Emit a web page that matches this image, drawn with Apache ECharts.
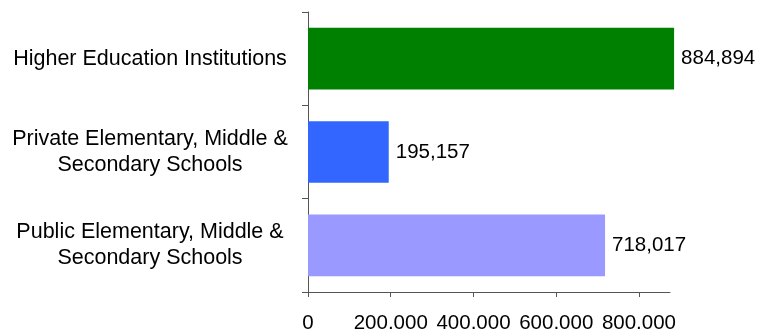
<!DOCTYPE html>
<html>
<head>
<meta charset="utf-8">
<script src="https://cdn.jsdelivr.net/npm/echarts@6/dist/echarts.min.js"></script>
<style>
html,body{margin:0;padding:0;background:#fff;}
#chart{width:758px;height:329px;}
</style>
</head>
<body>
<div id="chart"></div>
<script>
const categories = [
  'Higher Education Institutions',
  'Private Elementary, Middle &\nSecondary Schools',
  'Public Elementary, Middle &\nSecondary Schools'
];
const values = [884894, 195157, 718017];
const barColors = ['#008000', '#3366FF', '#9999FF'];
const xTicks = [0, 200000, 400000, 600000, 800000];
const xMax = 875000;

const fmt = v => Number(v).toLocaleString('en-US');
const FONT = '"Liberation Sans", Arial, sans-serif';

const chart = echarts.init(document.getElementById('chart'), null, {renderer: 'canvas'});
chart.setOption({
  animation: false,
  backgroundColor: '#ffffff',
  grid: {left: 308, right: 88, top: 12, bottom: 37, containLabel: false, outerBoundsMode: 'none'},
  xAxis: {
    type: 'value',
    min: 0,
    max: xMax,
    splitLine: {show: false},
    axisLine: {show: true, lineStyle: {color: '#555555', width: 1}},
    axisTick: {show: true, length: 5, customValues: xTicks, lineStyle: {color: '#555555'}},
    axisLabel: {
      customValues: xTicks,
      formatter: v => fmt(v),
      color: '#000000',
      fontFamily: FONT,
      fontSize: 20.5,
      margin: 21
    }
  },
  yAxis: {
    type: 'category',
    inverse: true,
    data: categories,
    axisLine: {show: true, lineStyle: {color: '#555555', width: 1}},
    axisTick: {show: true, length: 6, alignWithLabel: false, lineStyle: {color: '#555555'}},
    axisLabel: {
      color: '#000000',
      fontFamily: FONT,
      fontSize: 21.5,
      lineHeight: 26,
      align: 'center',
      margin: 158
    }
  },
  series: [{
    type: 'bar',
    clip: false,
    barWidth: '66%',
    data: values.map((v, i) => ({value: v, itemStyle: {color: barColors[i]}})),
    label: {
      show: true,
      position: 'right',
      distance: 7,
      formatter: p => fmt(p.value),
      color: '#000000',
      fontFamily: FONT,
      fontSize: 20.5
    }
  }]
});
</script>
</body>
</html>
